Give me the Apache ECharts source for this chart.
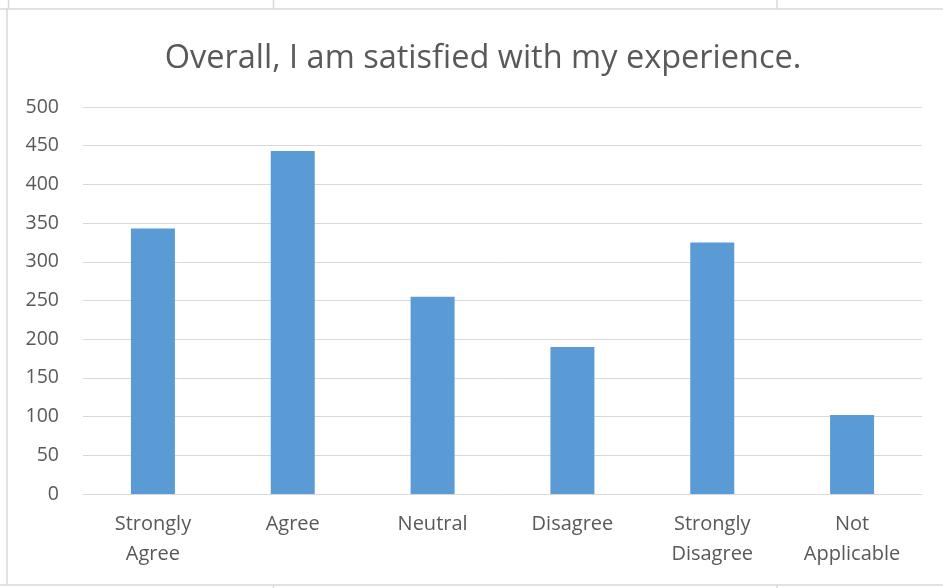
<!DOCTYPE html>
<html>
<head>
<meta charset="utf-8">
<script src="https://cdn.jsdelivr.net/npm/echarts@6/dist/echarts.min.js"></script>
<style>
html,body{margin:0;padding:0;background:#fff;}
#chart{width:943px;height:588px;}
</style>
</head>
<body>
<div id="chart"></div>
<script>
const titleText = 'Overall, I am satisfied with my experience.';
const categories = ['Strongly\nAgree', 'Agree', 'Neutral', 'Disagree', 'Strongly\nDisagree', 'Not\nApplicable'];
const counts = [343, 443, 255, 190, 325, 102];
const yMin = 0, yMax = 500, yStep = 50;

const chart = echarts.init(document.getElementById('chart'), null, {renderer: 'canvas'});
const borderColor = '#d9d9d9';
chart.setOption({
  animation: false,
  backgroundColor: '#ffffff',
  title: {
    text: titleText,
    left: 478,
    top: 37,
    textAlign: 'center',
    textStyle: {fontFamily: 'Open Sans', fontSize: 32.5, fontWeight: 'normal', color: '#595959'}
  },
  grid: {left: 83, right: 21, top: 107, bottom: 94, containLabel: false},
  xAxis: {
    type: 'category',
    data: categories,
    axisLine: {lineStyle: {color: borderColor, width: 1}},
    axisTick: {show: false},
    axisLabel: {fontFamily: 'Open Sans', fontSize: 20, color: '#595959', lineHeight: 30, margin: 15, interval: 0}
  },
  yAxis: {
    type: 'value',
    min: yMin, max: yMax, interval: yStep,
    axisLine: {show: false},
    axisTick: {show: false},
    splitLine: {lineStyle: {color: borderColor, width: 1}},
    axisLabel: {fontFamily: 'Open Sans', fontSize: 19.5, color: '#595959', margin: 24}
  },
  series: [{
    type: 'bar',
    data: counts,
    barWidth: 44,
    itemStyle: {color: '#5b9bd5'}
  }],
  graphic: [
    {type: 'line', silent: true, shape: {x1: 0, y1: 9, x2: 943, y2: 9}, style: {stroke: borderColor, lineWidth: 1.5}},
    {type: 'line', silent: true, shape: {x1: 0, y1: 585, x2: 943, y2: 585}, style: {stroke: borderColor, lineWidth: 1.5}},
    {type: 'line', silent: true, shape: {x1: 7, y1: 9, x2: 7, y2: 585}, style: {stroke: borderColor, lineWidth: 1.5}},
    {type: 'line', silent: true, shape: {x1: 8.5, y1: 0, x2: 8.5, y2: 9}, style: {stroke: borderColor, lineWidth: 1.5}},
    {type: 'line', silent: true, shape: {x1: 273.5, y1: 0, x2: 273.5, y2: 9}, style: {stroke: borderColor, lineWidth: 1.5}},
    {type: 'line', silent: true, shape: {x1: 777, y1: 0, x2: 777, y2: 9}, style: {stroke: borderColor, lineWidth: 1.5}},
    {type: 'line', silent: true, shape: {x1: 273.5, y1: 585, x2: 273.5, y2: 588}, style: {stroke: borderColor, lineWidth: 1.5}},
    {type: 'line', silent: true, shape: {x1: 777, y1: 585, x2: 777, y2: 588}, style: {stroke: borderColor, lineWidth: 1.5}}
  ]
});
</script>
</body>
</html>
